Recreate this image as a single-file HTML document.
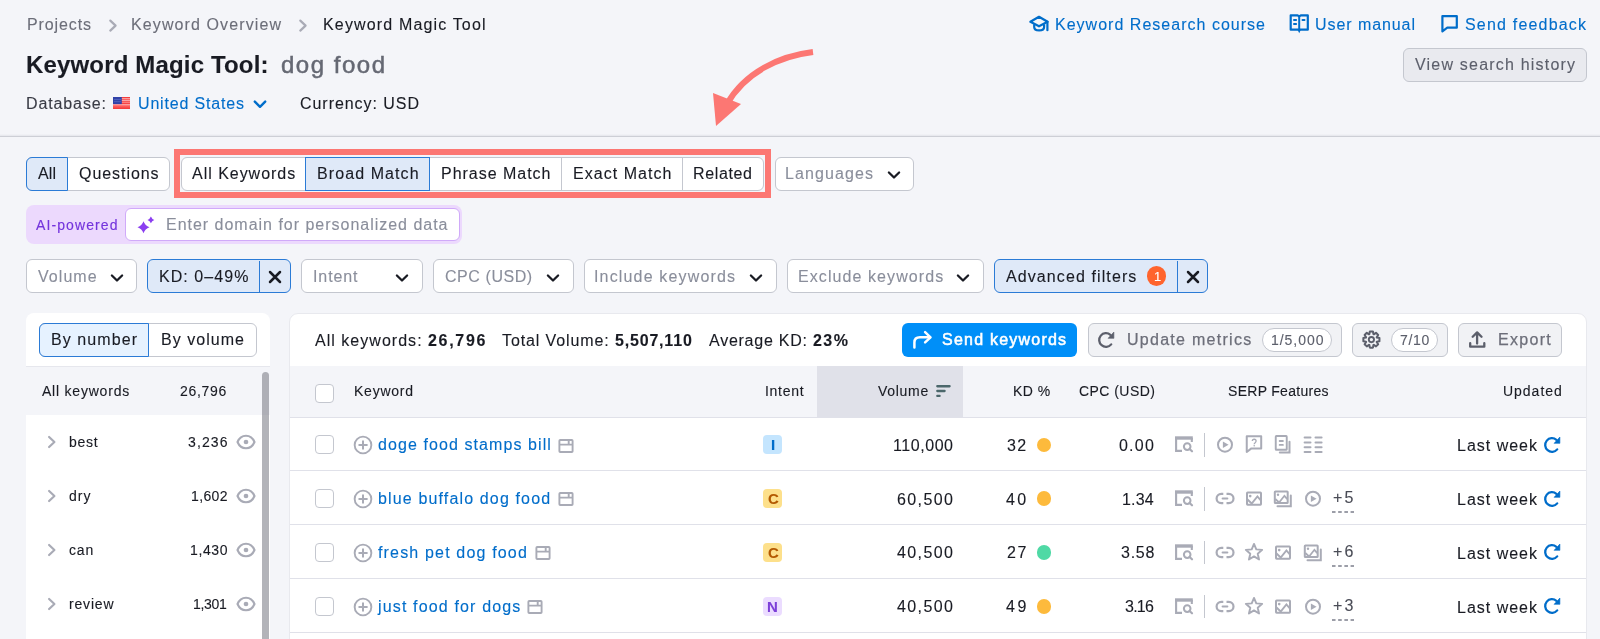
<!DOCTYPE html><html><head><meta charset="utf-8"><style>
*{margin:0;padding:0;box-sizing:border-box}
html,body{width:1600px;height:639px;overflow:hidden;background:#f4f5f9;font-family:"Liberation Sans",sans-serif}
.t{position:absolute;white-space:nowrap;line-height:1;will-change:transform;-webkit-text-stroke:0.12px currentColor}
.b{position:absolute;display:block}
</style></head><body>
<span class="t" style="left:26.50px;top:16.71px;font-size:16px;color:#6c6e79;letter-spacing:0.886px;">Projects</span>
<svg class="b" style="left:107.5px;top:18.5px;" width="10" height="14" viewBox="0 0 10 14"><path d="M2.3 1.6 L7.6 6.6 L2.3 11.6" fill="none" stroke="#a9abb6" stroke-width="2.2" stroke-linecap="round" stroke-linejoin="round"/></svg>
<span class="t" style="left:131.00px;top:16.71px;font-size:16px;color:#6c6e79;letter-spacing:1.109px;">Keyword Overview</span>
<svg class="b" style="left:298px;top:18.5px;" width="10" height="14" viewBox="0 0 10 14"><path d="M2.3 1.6 L7.6 6.6 L2.3 11.6" fill="none" stroke="#a9abb6" stroke-width="2.2" stroke-linecap="round" stroke-linejoin="round"/></svg>
<span class="t" style="left:322.50px;top:16.71px;font-size:16px;color:#191b23;letter-spacing:1.154px;">Keyword Magic Tool</span>
<span class="t" style="left:26.00px;top:53.28px;font-size:24px;color:#191b23;font-weight:700;letter-spacing:0.164px;">Keyword Magic Tool:</span>
<span class="t" style="left:281.00px;top:53.28px;font-size:24px;color:#656873;letter-spacing:1.513px;-webkit-text-stroke:0.5px #656873;">dog food</span>
<span class="t" style="left:26.00px;top:95.96px;font-size:16px;color:#393b45;letter-spacing:0.883px;">Database:</span>
<svg class="b" style="left:113px;top:96.8px;" width="17" height="12.3" viewBox="0 0 17 12.3"><defs><linearGradient id="fg" x1="0" y1="0" x2="0" y2="1"><stop offset="0.57" stop-color="#ffc2c2"/><stop offset="0.72" stop-color="#ff6262"/><stop offset="1" stop-color="#f03434"/></linearGradient></defs><rect width="17" height="12.3" fill="url(#fg)"/><rect width="17" height="7.1" fill="#f53c3c"/><rect y="1.3" width="17" height="1" fill="#ffc4c4"/><rect y="3.3" width="17" height="0.9" fill="#ffd0d0"/><rect y="5.3" width="17" height="0.8" fill="#ff9a9a"/><rect width="8.8" height="7.1" fill="#3142a8"/><rect x="1" y="2" width="7" height="0.8" fill="#5566c0"/><rect x="1" y="4.3" width="7" height="0.8" fill="#5566c0"/></svg>
<span class="t" style="left:137.50px;top:95.96px;font-size:16px;color:#006dca;letter-spacing:0.829px;">United States</span>
<svg class="b" style="left:253px;top:99.5px;" width="14" height="9" viewBox="0 0 14 9"><path d="M1.8 1.6 L7 6.8 L12.2 1.6" fill="none" stroke="#006dca" stroke-width="2.4" stroke-linecap="round" stroke-linejoin="round"/></svg>
<span class="t" style="left:299.50px;top:95.96px;font-size:16px;color:#191b23;letter-spacing:0.952px;">Currency: USD</span>
<svg class="b" style="left:1029px;top:15px;" width="21" height="18" viewBox="0 0 21 18"><path d="M10 1.8 L18.6 6.8 L10 11.3 L1.4 6.8 Z" fill="none" stroke="#006dca" stroke-width="2.2" stroke-linejoin="round"/><path d="M5.2 9.2 V12 C5.2 16.6 15.1 16.6 15.1 12 V9.2" fill="none" stroke="#006dca" stroke-width="2.2"/><path d="M18.4 6.8 V15.2" stroke="#006dca" stroke-width="2.2" stroke-linecap="round"/></svg>
<span class="t" style="left:1054.70px;top:16.86px;font-size:16px;color:#006dca;letter-spacing:1.017px;">Keyword Research course</span>
<svg class="b" style="left:1289px;top:14px;" width="21" height="21" viewBox="0 0 21 21"><path d="M1.7 1.3 H8.6 L10.2 2.4 L11.8 1.3 H18.8 V15.7 H1.7 Z" fill="none" stroke="#006dca" stroke-width="2.2" stroke-linejoin="round"/><path d="M10.2 2.4 V15.7" stroke="#006dca" stroke-width="2"/><path d="M8.4 15.5 L10.2 19.2 L12 15.5 Z" fill="#006dca"/><path d="M5 6.1 H7.1 M5 9.9 H7.1 M13.5 6.1 H15.5" stroke="#006dca" stroke-width="2" stroke-linecap="round"/></svg>
<span class="t" style="left:1315.00px;top:16.86px;font-size:16px;color:#006dca;letter-spacing:0.930px;">User manual</span>
<svg class="b" style="left:1440px;top:15px;" width="19" height="19" viewBox="0 0 19 19"><path d="M2.4 16.4 V1.1 H16.8 V12.7 H7.3 Z" fill="none" stroke="#006dca" stroke-width="2.2" stroke-linejoin="round"/></svg>
<span class="t" style="left:1465.00px;top:16.86px;font-size:16px;color:#006dca;letter-spacing:1.188px;">Send feedback</span>
<div class="b" style="left:1403px;top:48px;width:184px;height:34px;background:#e9eaef;border:1px solid #c4c7cf;border-radius:6px;"></div>
<span class="t" style="left:1415.00px;top:57.06px;font-size:16px;color:#5c5f6b;letter-spacing:1.199px;">View search history</span>
<div class="b" style="left:0px;top:133.6px;width:1600px;height:2.0px;background:linear-gradient(rgba(228,229,235,0),#e4e5eb);"></div>
<div class="b" style="left:0px;top:135.5px;width:1600px;height:1.0999999999999943px;background:#cdcfd6;"></div>
<svg class="b" style="left:700px;top:40px;" width="130" height="100" viewBox="0 0 130 100"><path d="M113 12 C80 16 45 32 27 64" fill="none" stroke="#fc7773" stroke-width="6"/><path d="M13 53 L41 64 L16 86 Z" fill="#fc7773"/></svg>
<div class="b" style="left:26px;top:156.5px;width:143.5px;height:34.0px;background:#fff;border:1px solid #c4c7cf;border-radius:6px;"></div>
<div class="b" style="left:26px;top:156.5px;width:42px;height:34.0px;background:#dfe9f8;border:1px solid #2b7bd6;border-radius:6px 0 0 6px;"></div>
<span class="t" style="left:37.50px;top:165.86px;font-size:16px;color:#191b23;letter-spacing:0.109px;">All</span>
<span class="t" style="left:78.70px;top:165.86px;font-size:16px;color:#191b23;letter-spacing:0.946px;">Questions</span>
<div class="b" style="left:173.5px;top:148.5px;width:597.0px;height:49.69999999999999px;border:6px solid #fc7773;"></div>
<div class="b" style="left:180.5px;top:156.5px;width:583.0px;height:34.0px;background:#fff;border:1px solid #c4c7cf;border-radius:6px;"></div>
<div class="b" style="left:304.5px;top:156.5px;width:125.5px;height:34.0px;background:#dfe9f8;border:1px solid #2b7bd6;"></div>
<div class="b" style="left:561px;top:157.5px;width:1px;height:32.0px;background:#c4c7cf;"></div>
<div class="b" style="left:681.5px;top:157.5px;width:1.0px;height:32.0px;background:#c4c7cf;"></div>
<span class="t" style="left:191.60px;top:165.86px;font-size:16px;color:#191b23;letter-spacing:0.975px;">All Keywords</span>
<span class="t" style="left:317.00px;top:165.86px;font-size:16px;color:#191b23;letter-spacing:1.089px;">Broad Match</span>
<span class="t" style="left:440.90px;top:165.86px;font-size:16px;color:#191b23;letter-spacing:0.981px;">Phrase Match</span>
<span class="t" style="left:572.60px;top:165.86px;font-size:16px;color:#191b23;letter-spacing:1.037px;">Exact Match</span>
<span class="t" style="left:693.00px;top:165.86px;font-size:16px;color:#191b23;letter-spacing:0.642px;">Related</span>
<div class="b" style="left:774.5px;top:156.5px;width:139.0px;height:34.0px;background:#fff;border:1px solid #c4c7cf;border-radius:6px;"></div>
<span class="t" style="left:785.00px;top:165.86px;font-size:16px;color:#8a8e9b;letter-spacing:1.102px;">Languages</span>
<svg class="b" style="left:885.5px;top:168.6px;" width="16" height="12" viewBox="0 0 16 12"><path d="M2.9 3.5 L8 8.55 L13.1 3.5" fill="none" stroke="#191b23" stroke-width="2.3" stroke-linecap="round" stroke-linejoin="round"/></svg>
<div class="b" style="left:26px;top:205px;width:436px;height:39.30000000000001px;background:#ecd9fd;border-radius:8px;"></div>
<span class="t" style="left:35.75px;top:217.65px;font-size:14px;color:#7434dc;letter-spacing:1.101px;-webkit-text-stroke:0.15px #7434dc;">AI-powered</span>
<div class="b" style="left:125px;top:208.3px;width:334.8px;height:33.0px;background:#fff;border:1.5px solid #d0aaf9;border-radius:6px;"></div>
<svg class="b" style="left:130px;top:210px;" width="30" height="30" viewBox="0 0 30 30"><path d="M13.5 11.2 Q15.05 15.649999999999999 19.5 17.2 Q15.05 18.75 13.5 23.2 Q11.95 18.75 7.5 17.2 Q11.95 15.649999999999999 13.5 11.2 Z" fill="#8b3ff0"/><path d="M20.9 6.5 Q21.849999999999998 8.950000000000001 24.299999999999997 9.9 Q21.849999999999998 10.85 20.9 13.3 Q19.95 10.85 17.5 9.9 Q19.95 8.950000000000001 20.9 6.5 Z" fill="#8b3ff0"/></svg>
<span class="t" style="left:166.25px;top:217.21px;font-size:16px;color:#8a8e9b;letter-spacing:0.984px;">Enter domain for personalized data</span>
<div class="b" style="left:26px;top:259px;width:111px;height:34px;background:#fff;border:1px solid #c4c7cf;border-radius:6px;"></div>
<span class="t" style="left:37.50px;top:268.76px;font-size:16px;color:#8a8e9b;letter-spacing:1.047px;">Volume</span>
<svg class="b" style="left:108.60000000000001px;top:271.7px;" width="16" height="12" viewBox="0 0 16 12"><path d="M2.9 3.5 L8 8.55 L13.1 3.5" fill="none" stroke="#191b23" stroke-width="2.3" stroke-linecap="round" stroke-linejoin="round"/></svg>
<div class="b" style="left:147px;top:259px;width:144px;height:34px;background:#dfe9f8;border:1px solid #2b7bd6;border-radius:6px;"></div>
<div class="b" style="left:259px;top:260.5px;width:1px;height:31.5px;background:#2b7bd6;"></div>
<span class="t" style="left:159.00px;top:268.76px;font-size:16px;color:#191b23;letter-spacing:1.058px;">KD: 0–49%</span>
<svg class="b" style="left:268px;top:269.5px;" width="14" height="14" viewBox="0 0 14 14"><path d="M2 2 L12 12 M12 2 L2 12" stroke="#191b23" stroke-width="2.5" stroke-linecap="round"/></svg>
<div class="b" style="left:301px;top:259px;width:122px;height:34px;background:#fff;border:1px solid #c4c7cf;border-radius:6px;"></div>
<span class="t" style="left:312.50px;top:268.76px;font-size:16px;color:#8a8e9b;letter-spacing:0.894px;">Intent</span>
<svg class="b" style="left:394.4px;top:271.7px;" width="16" height="12" viewBox="0 0 16 12"><path d="M2.9 3.5 L8 8.55 L13.1 3.5" fill="none" stroke="#191b23" stroke-width="2.3" stroke-linecap="round" stroke-linejoin="round"/></svg>
<div class="b" style="left:433px;top:259px;width:140.5px;height:34px;background:#fff;border:1px solid #c4c7cf;border-radius:6px;"></div>
<span class="t" style="left:444.70px;top:268.76px;font-size:16px;color:#8a8e9b;letter-spacing:0.567px;">CPC (USD)</span>
<svg class="b" style="left:544.8px;top:271.7px;" width="16" height="12" viewBox="0 0 16 12"><path d="M2.9 3.5 L8 8.55 L13.1 3.5" fill="none" stroke="#191b23" stroke-width="2.3" stroke-linecap="round" stroke-linejoin="round"/></svg>
<div class="b" style="left:584px;top:259px;width:192.5px;height:34px;background:#fff;border:1px solid #c4c7cf;border-radius:6px;"></div>
<span class="t" style="left:594.40px;top:268.76px;font-size:16px;color:#8a8e9b;letter-spacing:1.159px;">Include keywords</span>
<svg class="b" style="left:747.9px;top:271.7px;" width="16" height="12" viewBox="0 0 16 12"><path d="M2.9 3.5 L8 8.55 L13.1 3.5" fill="none" stroke="#191b23" stroke-width="2.3" stroke-linecap="round" stroke-linejoin="round"/></svg>
<div class="b" style="left:787px;top:259px;width:196.5px;height:34px;background:#fff;border:1px solid #c4c7cf;border-radius:6px;"></div>
<span class="t" style="left:797.80px;top:268.76px;font-size:16px;color:#8a8e9b;letter-spacing:1.084px;">Exclude keywords</span>
<svg class="b" style="left:954.9px;top:271.7px;" width="16" height="12" viewBox="0 0 16 12"><path d="M2.9 3.5 L8 8.55 L13.1 3.5" fill="none" stroke="#191b23" stroke-width="2.3" stroke-linecap="round" stroke-linejoin="round"/></svg>
<div class="b" style="left:994px;top:259px;width:214px;height:34px;background:#dfe9f8;border:1px solid #2b7bd6;border-radius:6px;"></div>
<div class="b" style="left:1177px;top:260.5px;width:1px;height:31.5px;background:#2b7bd6;"></div>
<span class="t" style="left:1006.00px;top:268.76px;font-size:16px;color:#191b23;letter-spacing:1.098px;">Advanced filters</span>
<div class="b" style="left:1146.9px;top:266.3px;width:19.59999999999991px;height:19.599999999999966px;background:#ff642d;border-radius:50%;"></div>
<span class="t" style="left:1153.50px;top:270.00px;font-size:13px;color:#fff;">1</span>
<svg class="b" style="left:1185.5px;top:269.5px;" width="14" height="14" viewBox="0 0 14 14"><path d="M2 2 L12 12 M12 2 L2 12" stroke="#191b23" stroke-width="2.5" stroke-linecap="round"/></svg>
<div class="b" style="left:26px;top:313px;width:244px;height:387px;background:#fff;border-radius:8px;"></div>
<div class="b" style="left:39px;top:323px;width:218px;height:34px;background:#fff;border:1px solid #c4c7cf;border-radius:6px;"></div>
<div class="b" style="left:39px;top:323px;width:109.5px;height:34px;background:#e6f2ff;border:1px solid #2b7bd6;border-radius:6px 0 0 6px;"></div>
<span class="t" style="left:50.60px;top:331.96px;font-size:16px;color:#191b23;letter-spacing:1.080px;">By number</span>
<span class="t" style="left:161.00px;top:331.96px;font-size:16px;color:#191b23;letter-spacing:1.038px;">By volume</span>
<div class="b" style="left:26px;top:366px;width:244px;height:1px;background:#e6e7ed;"></div>
<div class="b" style="left:26px;top:367px;width:244px;height:48px;background:#f4f5f9;"></div>
<span class="t" style="left:42.00px;top:384.05px;font-size:14px;color:#191b23;letter-spacing:0.784px;">All keywords</span>
<span class="t" style="left:180.20px;top:384.05px;font-size:14px;color:#191b23;letter-spacing:0.697px;">26,796</span>
<div class="b" style="left:262px;top:372px;width:7px;height:328px;background:rgba(110,112,120,0.52);border-radius:3.5px;"></div>
<svg class="b" style="left:44px;top:433.3px;" width="14" height="18" viewBox="0 0 14 18"><path d="M5.1 4 L10.4 9 L5.1 14" fill="none" stroke="#a9abb6" stroke-width="2.2" stroke-linecap="round" stroke-linejoin="round"/></svg>
<span class="t" style="left:69.30px;top:435.45px;font-size:14px;color:#191b23;letter-spacing:0.713px;">best</span>
<span class="t" style="left:187.50px;top:435.45px;font-size:14px;color:#191b23;letter-spacing:1.117px;">3,236</span>
<svg class="b" style="left:234.6px;top:433.40000000000003px;" width="22" height="18" viewBox="0 0 22 18"><path d="M2.5 9 C6 0.7 16 0.7 19.5 9 C16 17.3 6 17.3 2.5 9 Z" fill="none" stroke="#a9abb6" stroke-width="2.1" stroke-linejoin="round"/><circle cx="11" cy="9" r="2.35" fill="#a9abb6"/></svg>
<svg class="b" style="left:44px;top:487.05px;" width="14" height="18" viewBox="0 0 14 18"><path d="M5.1 4 L10.4 9 L5.1 14" fill="none" stroke="#a9abb6" stroke-width="2.2" stroke-linecap="round" stroke-linejoin="round"/></svg>
<span class="t" style="left:69.30px;top:489.20px;font-size:14px;color:#191b23;letter-spacing:1.077px;">dry</span>
<span class="t" style="left:190.50px;top:489.20px;font-size:14px;color:#191b23;letter-spacing:0.367px;">1,602</span>
<svg class="b" style="left:234.6px;top:487.15000000000003px;" width="22" height="18" viewBox="0 0 22 18"><path d="M2.5 9 C6 0.7 16 0.7 19.5 9 C16 17.3 6 17.3 2.5 9 Z" fill="none" stroke="#a9abb6" stroke-width="2.1" stroke-linejoin="round"/><circle cx="11" cy="9" r="2.35" fill="#a9abb6"/></svg>
<svg class="b" style="left:44px;top:540.8px;" width="14" height="18" viewBox="0 0 14 18"><path d="M5.1 4 L10.4 9 L5.1 14" fill="none" stroke="#a9abb6" stroke-width="2.2" stroke-linecap="round" stroke-linejoin="round"/></svg>
<span class="t" style="left:69.30px;top:542.95px;font-size:14px;color:#191b23;letter-spacing:0.815px;">can</span>
<span class="t" style="left:189.50px;top:542.95px;font-size:14px;color:#191b23;letter-spacing:0.617px;">1,430</span>
<svg class="b" style="left:234.6px;top:540.9px;" width="22" height="18" viewBox="0 0 22 18"><path d="M2.5 9 C6 0.7 16 0.7 19.5 9 C16 17.3 6 17.3 2.5 9 Z" fill="none" stroke="#a9abb6" stroke-width="2.1" stroke-linejoin="round"/><circle cx="11" cy="9" r="2.35" fill="#a9abb6"/></svg>
<svg class="b" style="left:44px;top:594.55px;" width="14" height="18" viewBox="0 0 14 18"><path d="M5.1 4 L10.4 9 L5.1 14" fill="none" stroke="#a9abb6" stroke-width="2.2" stroke-linecap="round" stroke-linejoin="round"/></svg>
<span class="t" style="left:69.30px;top:596.70px;font-size:14px;color:#191b23;letter-spacing:0.829px;">review</span>
<span class="t" style="left:193.20px;top:596.70px;font-size:14px;color:#191b23;letter-spacing:-0.308px;">1,301</span>
<svg class="b" style="left:234.6px;top:594.65px;" width="22" height="18" viewBox="0 0 22 18"><path d="M2.5 9 C6 0.7 16 0.7 19.5 9 C16 17.3 6 17.3 2.5 9 Z" fill="none" stroke="#a9abb6" stroke-width="2.1" stroke-linejoin="round"/><circle cx="11" cy="9" r="2.35" fill="#a9abb6"/></svg>
<div class="b" style="left:289px;top:312.5px;width:1298.3px;height:387.5px;background:#fff;border-radius:9px;border:1px solid #e8e9ee;"></div>
<span class="t" style="left:315.00px;top:333.06px;font-size:16px;color:#191b23;letter-spacing:1.029px;">All keywords:</span>
<span class="t" style="left:427.60px;top:333.06px;font-size:16px;color:#191b23;font-weight:700;letter-spacing:1.694px;">26,796</span>
<span class="t" style="left:502.30px;top:333.06px;font-size:16px;color:#191b23;letter-spacing:0.888px;">Total Volume:</span>
<span class="t" style="left:615.20px;top:333.06px;font-size:16px;color:#191b23;font-weight:700;letter-spacing:0.814px;">5,507,110</span>
<span class="t" style="left:708.90px;top:333.06px;font-size:16px;color:#191b23;letter-spacing:0.748px;">Average KD:</span>
<span class="t" style="left:813.30px;top:333.06px;font-size:16px;color:#191b23;font-weight:700;letter-spacing:1.439px;">23%</span>
<div class="b" style="left:902px;top:323px;width:175px;height:34px;background:#008ff8;border-radius:6px;"></div>
<svg class="b" style="left:911px;top:330px;" width="22" height="20" viewBox="0 0 22 20"><path d="M3.4 17.6 V12.5 C3.4 9.3 5.2 7.3 9 7.3 H19" fill="none" stroke="#fff" stroke-width="2.5" stroke-linecap="round"/><path d="M14.1 2.2 L19.5 7.3 L14.1 12.4" fill="none" stroke="#fff" stroke-width="2.5" stroke-linecap="round" stroke-linejoin="round"/></svg>
<span class="t" style="left:941.50px;top:332.36px;font-size:16px;color:#fff;letter-spacing:1.226px;-webkit-text-stroke:0.55px #fff;">Send keywords</span>
<div class="b" style="left:1087.5px;top:323px;width:254.5px;height:33.5px;background:#f1f2f5;border:1px solid #c4c7cf;border-radius:6px;"></div>
<span class="t" style="left:1127.20px;top:332.36px;font-size:16px;color:#6c6e79;letter-spacing:1.278px;-webkit-text-stroke:0.25px #6c6e79;">Update metrics</span>
<div class="b" style="left:1262px;top:328px;width:70px;height:23.5px;background:#fff;border:1px solid #c4c7cf;border-radius:12px;"></div>
<span class="t" style="left:1270.50px;top:332.65px;font-size:14px;color:#5c5f6b;letter-spacing:0.966px;">1/5,000</span>
<div class="b" style="left:1352px;top:323px;width:95.5px;height:33.5px;background:#f1f2f5;border:1px solid #c4c7cf;border-radius:6px;"></div>
<svg class="b" style="left:1362px;top:330px;" width="20" height="20" viewBox="0 0 20 20"><path d="M7.36 4.17 L7.85 1.55 L10.95 1.55 L11.44 4.17 L11.79 4.32 L14.00 2.81 L16.19 5.00 L14.68 7.21 L14.83 7.56 L17.45 8.05 L17.45 11.15 L14.83 11.64 L14.68 11.99 L16.19 14.20 L14.00 16.39 L11.79 14.88 L11.44 15.03 L10.95 17.65 L7.85 17.65 L7.36 15.03 L7.01 14.88 L4.80 16.39 L2.61 14.20 L4.12 11.99 L3.97 11.64 L1.35 11.15 L1.35 8.05 L3.97 7.56 L4.12 7.21 L2.61 5.00 L4.80 2.81 L7.01 4.32 Z" fill="none" stroke="#5c5f6b" stroke-width="2" stroke-linejoin="round"/><circle cx="9.4" cy="9.6" r="2.6" fill="none" stroke="#5c5f6b" stroke-width="1.9"/></svg>
<div class="b" style="left:1391px;top:328px;width:47px;height:23.5px;background:#fff;border:1px solid #c4c7cf;border-radius:12px;"></div>
<span class="t" style="left:1399.80px;top:332.65px;font-size:14px;color:#5c5f6b;letter-spacing:0.652px;">7/10</span>
<div class="b" style="left:1458px;top:323px;width:104px;height:33.5px;background:#f1f2f5;border:1px solid #c4c7cf;border-radius:6px;"></div>
<svg class="b" style="left:1468px;top:331px;" width="19" height="19" viewBox="0 0 19 19"><path d="M9.1 12.6 V1.8 M4.7 5.8 L9.1 1.4 L13.5 5.8" fill="none" stroke="#5c5f6b" stroke-width="2.3" stroke-linecap="round" stroke-linejoin="round"/><path d="M2.2 12.2 V15.7 H16.3 V12.2" fill="none" stroke="#5c5f6b" stroke-width="2.3" stroke-linecap="round" stroke-linejoin="round"/></svg>
<span class="t" style="left:1497.60px;top:332.36px;font-size:16px;color:#6c6e79;letter-spacing:1.312px;-webkit-text-stroke:0.25px #6c6e79;">Export</span>
<div class="b" style="left:290px;top:366px;width:1296.3px;height:51px;background:#f4f5f9;"></div>
<div class="b" style="left:816.5px;top:366px;width:146.5px;height:51px;background:#e0e1e9;"></div>
<div class="b" style="left:290px;top:416.5px;width:1296.3px;height:1.0px;background:#e0e1e9;"></div>
<div class="b" style="left:314.5px;top:384px;width:19.0px;height:19px;background:#fff;border:1px solid #c4c7cf;border-radius:4px;"></div>
<span class="t" style="left:354.00px;top:384.15px;font-size:14px;color:#191b23;letter-spacing:0.756px;">Keyword</span>
<span class="t" style="left:765.40px;top:384.15px;font-size:14px;color:#191b23;letter-spacing:0.715px;">Intent</span>
<span class="t" style="left:877.70px;top:384.15px;font-size:14px;color:#191b23;letter-spacing:0.701px;">Volume</span>
<svg class="b" style="left:930px;top:380px;" width="24" height="20" viewBox="0 0 24 20"><path d="M7.3 6.25 H19.6 M7.3 11 H14.6 M7.3 15.9 H9.6" stroke="#4b676b" stroke-width="2.3" stroke-linecap="round"/></svg>
<span class="t" style="left:1012.70px;top:384.15px;font-size:14px;color:#191b23;letter-spacing:0.504px;">KD %</span>
<span class="t" style="left:1078.60px;top:384.15px;font-size:14px;color:#191b23;letter-spacing:0.446px;">CPC (USD)</span>
<span class="t" style="left:1227.70px;top:384.15px;font-size:14px;color:#191b23;letter-spacing:0.300px;">SERP Features</span>
<span class="t" style="left:1503.00px;top:384.15px;font-size:14px;color:#191b23;letter-spacing:0.979px;">Updated</span>
<div class="b" style="left:290px;top:470.2px;width:1296.3px;height:1.0px;background:#e0e1e9;"></div>
<div class="b" style="left:314.5px;top:435.4px;width:19.0px;height:19.0px;background:#fff;border:1px solid #c4c7cf;border-radius:4px;"></div>
<svg class="b" style="left:350.8px;top:432.8px" width="24" height="24" viewBox="-12 -12 24 24"><circle cx="0" cy="0" r="8.35" fill="none" stroke="#a9abb6" stroke-width="1.9"/><path d="M0 -4.5 V4.4 M-4.5 0 H4.6" fill="none" stroke="#a9abb6" stroke-width="2"/></svg>
<span class="t" style="left:378.40px;top:436.86px;font-size:16px;color:#006dca;letter-spacing:1.085px;">doge food stamps bill</span>
<svg class="b" style="left:554.4499999999999px;top:433.5px" width="24" height="24" viewBox="-12 -12 24 24"><rect x="-6.6" y="-6" width="13.2" height="12" rx="0.8" fill="none" stroke="#a9abb6" stroke-width="1.9"/><path d="M-6.6 -1.4 H6.6 M2.7 -6 V-1.4" fill="none" stroke="#a9abb6" stroke-width="1.9"/></svg>
<div class="b" style="left:762.6px;top:434.8px;width:19.5px;height:19.5px;background:#c4e5fe;border-radius:4px;"></div>
<span class="t" style="left:770.60px;top:437.20px;font-size:15px;color:#006dca;font-weight:700;">I</span>
<span class="t" style="left:892.50px;top:437.56px;font-size:16px;color:#191b23;letter-spacing:0.560px;">110,000</span>
<span class="t" style="left:1006.80px;top:437.56px;font-size:16px;color:#191b23;letter-spacing:1.405px;">32</span>
<div class="b" style="left:1036.8px;top:437.5px;width:14.400000000000091px;height:14.399999999999977px;background:#fdba3c;border-radius:50%;"></div>
<span class="t" style="left:1119.20px;top:437.56px;font-size:16px;color:#191b23;letter-spacing:1.221px;">0.00</span>
<svg class="b" style="left:1172px;top:432.0px" width="24" height="24" viewBox="-12 -12 24 24"><path d="M-2 6.9 H-7.9 V-6 M7.8 -6 V-2.1" fill="none" stroke="#a9abb6" stroke-width="2.1"/><path d="M-9 -6 H8.8" fill="none" stroke="#a9abb6" stroke-width="3.4"/><circle cx="3.2" cy="2.6" r="3.3" fill="none" stroke="#a9abb6" stroke-width="2"/><path d="M5.6 5 L8 7.3" fill="none" stroke="#a9abb6" stroke-width="2.2" stroke-linecap="round"/></svg>
<div class="b" style="left:1203.9px;top:432.8px;width:1.199999999999818px;height:23.80000000000001px;background:#c4c7cf;"></div>
<svg class="b" style="left:1212.6px;top:432.0px" width="24" height="24" viewBox="-12 -12 24 24"><circle cx="0" cy="0.7" r="7" fill="none" stroke="#a9abb6" stroke-width="2"/><path d="M-2.1 -2.4 L3.6 0.85 L-2.1 4.1 Z" fill="#a9abb6"/></svg>
<svg class="b" style="left:1242.0px;top:432.0px" width="24" height="24" viewBox="-12 -12 24 24"><path d="M-7.25 8 V-7.7 H7.2 V4.4 H-2.6 Z" fill="none" stroke="#a9abb6" stroke-width="2" stroke-linejoin="round"/><path d="M-1.7 -2.9 C-1.7 -5.4 2.1 -5.4 2.1 -2.9 C2.1 -1.3 0.2 -1.4 0.2 0.3" fill="none" stroke="#a9abb6" stroke-width="1.3"/><circle cx="0.2" cy="1.8" r="0.8" fill="#a9abb6"/></svg>
<svg class="b" style="left:1271.3999999999999px;top:432.0px" width="24" height="24" viewBox="-12 -12 24 24"><rect x="-7.25" y="-7.95" width="11" height="13.7" rx="0.6" fill="none" stroke="#a9abb6" stroke-width="1.9"/><path d="M-3.3 -3 H-0.1 M-3.3 0.9 H-0.1" fill="none" stroke="#a9abb6" stroke-width="1.9" stroke-linecap="round"/><path d="M6.5 -2.2 V8.5 H-3.2" fill="none" stroke="#a9abb6" stroke-width="2" stroke-linecap="round"/></svg>
<svg class="b" style="left:1300.8px;top:432.0px" width="24" height="24" viewBox="-12 -12 24 24"><path d="M-8.4 -6.6 H-2.5 M2.5 -6.6 H8.6" fill="none" stroke="#a9abb6" stroke-width="2" stroke-linecap="round"/><path d="M-8.4 -1.6 H-2.5 M2.5 -1.6 H8.6" fill="none" stroke="#a9abb6" stroke-width="2" stroke-linecap="round"/><path d="M-8.4 3.3 H-2.5 M2.5 3.3 H8.6" fill="none" stroke="#a9abb6" stroke-width="2" stroke-linecap="round"/><path d="M-8.4 8.1 H-2.5 M2.5 8.1 H8.6" fill="none" stroke="#a9abb6" stroke-width="2" stroke-linecap="round"/></svg>
<span class="t" style="left:1456.80px;top:437.66px;font-size:16px;color:#191b23;letter-spacing:0.996px;">Last week</span>
<svg class="b" style="left:1540.1px;top:432.55px" width="24" height="24" viewBox="-12 -12 24 24"><path d="M5.21 4.37 A6.8 6.8 0 1 1 4.37 -5.21" fill="none" stroke="#006dca" stroke-width="2.3" stroke-linecap="round"/><path d="M7.9 -8 V-1.65 H2.1 Z" fill="#006dca" stroke="#006dca" stroke-width="0.6" stroke-linejoin="round"/></svg>
<div class="b" style="left:290px;top:524.15px;width:1296.3px;height:1.0px;background:#e0e1e9;"></div>
<div class="b" style="left:314.5px;top:489.34999999999997px;width:19.0px;height:19.0px;background:#fff;border:1px solid #c4c7cf;border-radius:4px;"></div>
<svg class="b" style="left:350.8px;top:486.75px" width="24" height="24" viewBox="-12 -12 24 24"><circle cx="0" cy="0" r="8.35" fill="none" stroke="#a9abb6" stroke-width="1.9"/><path d="M0 -4.5 V4.4 M-4.5 0 H4.6" fill="none" stroke="#a9abb6" stroke-width="2"/></svg>
<span class="t" style="left:378.40px;top:490.81px;font-size:16px;color:#006dca;letter-spacing:1.147px;">blue buffalo dog food</span>
<svg class="b" style="left:553.8499999999999px;top:487.45px" width="24" height="24" viewBox="-12 -12 24 24"><rect x="-6.6" y="-6" width="13.2" height="12" rx="0.8" fill="none" stroke="#a9abb6" stroke-width="1.9"/><path d="M-6.6 -1.4 H6.6 M2.7 -6 V-1.4" fill="none" stroke="#a9abb6" stroke-width="1.9"/></svg>
<div class="b" style="left:762.6px;top:488.75px;width:19.5px;height:19.5px;background:#fde08b;border-radius:4px;"></div>
<span class="t" style="left:767.60px;top:491.15px;font-size:15px;color:#b35900;font-weight:700;">C</span>
<span class="t" style="left:896.50px;top:491.51px;font-size:16px;color:#191b23;letter-spacing:1.414px;">60,500</span>
<span class="t" style="left:1005.80px;top:491.51px;font-size:16px;color:#191b23;letter-spacing:2.405px;">40</span>
<div class="b" style="left:1036.8px;top:491.45px;width:14.400000000000091px;height:14.399999999999977px;background:#fdba3c;border-radius:50%;"></div>
<span class="t" style="left:1122.30px;top:491.51px;font-size:16px;color:#191b23;letter-spacing:0.188px;">1.34</span>
<svg class="b" style="left:1172px;top:485.95px" width="24" height="24" viewBox="-12 -12 24 24"><path d="M-2 6.9 H-7.9 V-6 M7.8 -6 V-2.1" fill="none" stroke="#a9abb6" stroke-width="2.1"/><path d="M-9 -6 H8.8" fill="none" stroke="#a9abb6" stroke-width="3.4"/><circle cx="3.2" cy="2.6" r="3.3" fill="none" stroke="#a9abb6" stroke-width="2"/><path d="M5.6 5 L8 7.3" fill="none" stroke="#a9abb6" stroke-width="2.2" stroke-linecap="round"/></svg>
<div class="b" style="left:1203.9px;top:486.75px;width:1.199999999999818px;height:23.80000000000001px;background:#c4c7cf;"></div>
<svg class="b" style="left:1212.6px;top:485.95px" width="24" height="24" viewBox="-12 -12 24 24"><path d="M-1.7 -4.2 H-3.75 A4.65 4.65 0 0 0 -3.75 5.1 H-1.7 M1.5 -4.2 H3.85 A4.65 4.65 0 0 1 3.85 5.1 H1.5" fill="none" stroke="#a9abb6" stroke-width="2.2"/><path d="M-2.3 0.5 H2.3" fill="none" stroke="#a9abb6" stroke-width="2.2" stroke-linecap="round"/></svg>
<svg class="b" style="left:1242.0px;top:485.95px" width="24" height="24" viewBox="-12 -12 24 24"><rect x="-7" y="-5.4" width="14" height="12.1" rx="0.6" fill="none" stroke="#a9abb6" stroke-width="2"/><path d="M-6.5 1.5 L-2.3 5.5 L3.4 -1.6 L6.8 2.4" fill="none" stroke="#a9abb6" stroke-width="1.9"/><circle cx="-3.8" cy="-1.9" r="1.3" fill="#a9abb6"/></svg>
<svg class="b" style="left:1271.3999999999999px;top:485.95px" width="24" height="24" viewBox="-12 -12 24 24"><rect x="-8.2" y="-6.5" width="12.9" height="11.5" rx="0.6" fill="none" stroke="#a9abb6" stroke-width="2"/><path d="M-7.7 1 L-3.9 4.5 L1.4 -2.2 L4.3 1.2" fill="none" stroke="#a9abb6" stroke-width="1.8"/><circle cx="-5" cy="-3.2" r="1.2" fill="#a9abb6"/><path d="M7.8 -2.6 V8.3 H-5.5" fill="none" stroke="#a9abb6" stroke-width="2" stroke-linecap="round"/></svg>
<svg class="b" style="left:1300.8px;top:485.95px" width="24" height="24" viewBox="-12 -12 24 24"><circle cx="0" cy="0.7" r="7" fill="none" stroke="#a9abb6" stroke-width="2"/><path d="M-2.1 -2.4 L3.6 0.85 L-2.1 4.1 Z" fill="#a9abb6"/></svg>
<span class="t" style="left:1333.20px;top:490.01px;font-size:16px;color:#4a4c56;letter-spacing:2.058px;">+5</span>
<div class="b" style="left:1332.2px;top:511.45px;width:22.299999999999955px;height:1.5000000000000568px;background-image:linear-gradient(90deg,#9c9ea8 3.6px,transparent 3.6px);background-size:6.2px 1.5px;"></div>
<span class="t" style="left:1456.80px;top:491.61px;font-size:16px;color:#191b23;letter-spacing:0.996px;">Last week</span>
<svg class="b" style="left:1540.1px;top:486.5px" width="24" height="24" viewBox="-12 -12 24 24"><path d="M5.21 4.37 A6.8 6.8 0 1 1 4.37 -5.21" fill="none" stroke="#006dca" stroke-width="2.3" stroke-linecap="round"/><path d="M7.9 -8 V-1.65 H2.1 Z" fill="#006dca" stroke="#006dca" stroke-width="0.6" stroke-linejoin="round"/></svg>
<div class="b" style="left:290px;top:578.1px;width:1296.3px;height:1.0px;background:#e0e1e9;"></div>
<div class="b" style="left:314.5px;top:543.3px;width:19.0px;height:19.0px;background:#fff;border:1px solid #c4c7cf;border-radius:4px;"></div>
<svg class="b" style="left:350.8px;top:540.6999999999999px" width="24" height="24" viewBox="-12 -12 24 24"><circle cx="0" cy="0" r="8.35" fill="none" stroke="#a9abb6" stroke-width="1.9"/><path d="M0 -4.5 V4.4 M-4.5 0 H4.6" fill="none" stroke="#a9abb6" stroke-width="2"/></svg>
<span class="t" style="left:378.40px;top:544.76px;font-size:16px;color:#006dca;letter-spacing:1.166px;">fresh pet dog food</span>
<svg class="b" style="left:530.55px;top:541.4px" width="24" height="24" viewBox="-12 -12 24 24"><rect x="-6.6" y="-6" width="13.2" height="12" rx="0.8" fill="none" stroke="#a9abb6" stroke-width="1.9"/><path d="M-6.6 -1.4 H6.6 M2.7 -6 V-1.4" fill="none" stroke="#a9abb6" stroke-width="1.9"/></svg>
<div class="b" style="left:762.6px;top:542.6999999999999px;width:19.5px;height:19.5px;background:#fde08b;border-radius:4px;"></div>
<span class="t" style="left:767.60px;top:545.10px;font-size:15px;color:#b35900;font-weight:700;">C</span>
<span class="t" style="left:896.50px;top:545.46px;font-size:16px;color:#191b23;letter-spacing:1.414px;">40,500</span>
<span class="t" style="left:1006.70px;top:545.46px;font-size:16px;color:#191b23;letter-spacing:1.505px;">27</span>
<div class="b" style="left:1036.8px;top:545.4px;width:14.400000000000091px;height:14.399999999999977px;background:#4fd9a5;border-radius:50%;"></div>
<span class="t" style="left:1120.60px;top:545.46px;font-size:16px;color:#191b23;letter-spacing:0.754px;">3.58</span>
<svg class="b" style="left:1172px;top:539.9px" width="24" height="24" viewBox="-12 -12 24 24"><path d="M-2 6.9 H-7.9 V-6 M7.8 -6 V-2.1" fill="none" stroke="#a9abb6" stroke-width="2.1"/><path d="M-9 -6 H8.8" fill="none" stroke="#a9abb6" stroke-width="3.4"/><circle cx="3.2" cy="2.6" r="3.3" fill="none" stroke="#a9abb6" stroke-width="2"/><path d="M5.6 5 L8 7.3" fill="none" stroke="#a9abb6" stroke-width="2.2" stroke-linecap="round"/></svg>
<div class="b" style="left:1203.9px;top:540.6999999999999px;width:1.199999999999818px;height:23.800000000000068px;background:#c4c7cf;"></div>
<svg class="b" style="left:1212.6px;top:539.9px" width="24" height="24" viewBox="-12 -12 24 24"><path d="M-1.7 -4.2 H-3.75 A4.65 4.65 0 0 0 -3.75 5.1 H-1.7 M1.5 -4.2 H3.85 A4.65 4.65 0 0 1 3.85 5.1 H1.5" fill="none" stroke="#a9abb6" stroke-width="2.2"/><path d="M-2.3 0.5 H2.3" fill="none" stroke="#a9abb6" stroke-width="2.2" stroke-linecap="round"/></svg>
<svg class="b" style="left:1242.0px;top:539.9px" width="24" height="24" viewBox="-12 -12 24 24"><path d="M0.00 -8.10 L2.29 -2.66 L8.18 -2.16 L3.71 1.71 L5.05 7.46 L0.00 4.40 L-5.05 7.46 L-3.71 1.71 L-8.18 -2.16 L-2.29 -2.66 Z" fill="none" stroke="#a9abb6" stroke-width="1.9" stroke-linejoin="round"/></svg>
<svg class="b" style="left:1271.3999999999999px;top:539.9px" width="24" height="24" viewBox="-12 -12 24 24"><rect x="-7" y="-5.4" width="14" height="12.1" rx="0.6" fill="none" stroke="#a9abb6" stroke-width="2"/><path d="M-6.5 1.5 L-2.3 5.5 L3.4 -1.6 L6.8 2.4" fill="none" stroke="#a9abb6" stroke-width="1.9"/><circle cx="-3.8" cy="-1.9" r="1.3" fill="#a9abb6"/></svg>
<svg class="b" style="left:1300.8px;top:539.9px" width="24" height="24" viewBox="-12 -12 24 24"><rect x="-8.2" y="-6.5" width="12.9" height="11.5" rx="0.6" fill="none" stroke="#a9abb6" stroke-width="2"/><path d="M-7.7 1 L-3.9 4.5 L1.4 -2.2 L4.3 1.2" fill="none" stroke="#a9abb6" stroke-width="1.8"/><circle cx="-5" cy="-3.2" r="1.2" fill="#a9abb6"/><path d="M7.8 -2.6 V8.3 H-5.5" fill="none" stroke="#a9abb6" stroke-width="2" stroke-linecap="round"/></svg>
<span class="t" style="left:1333.20px;top:543.96px;font-size:16px;color:#4a4c56;letter-spacing:2.058px;">+6</span>
<div class="b" style="left:1332.2px;top:565.4px;width:22.299999999999955px;height:1.5px;background-image:linear-gradient(90deg,#9c9ea8 3.6px,transparent 3.6px);background-size:6.2px 1.5px;"></div>
<span class="t" style="left:1456.80px;top:545.56px;font-size:16px;color:#191b23;letter-spacing:0.996px;">Last week</span>
<svg class="b" style="left:1540.1px;top:540.4499999999999px" width="24" height="24" viewBox="-12 -12 24 24"><path d="M5.21 4.37 A6.8 6.8 0 1 1 4.37 -5.21" fill="none" stroke="#006dca" stroke-width="2.3" stroke-linecap="round"/><path d="M7.9 -8 V-1.65 H2.1 Z" fill="#006dca" stroke="#006dca" stroke-width="0.6" stroke-linejoin="round"/></svg>
<div class="b" style="left:290px;top:632.0500000000001px;width:1296.3px;height:1.0px;background:#e0e1e9;"></div>
<div class="b" style="left:314.5px;top:597.25px;width:19.0px;height:19.0px;background:#fff;border:1px solid #c4c7cf;border-radius:4px;"></div>
<svg class="b" style="left:350.8px;top:594.65px" width="24" height="24" viewBox="-12 -12 24 24"><circle cx="0" cy="0" r="8.35" fill="none" stroke="#a9abb6" stroke-width="1.9"/><path d="M0 -4.5 V4.4 M-4.5 0 H4.6" fill="none" stroke="#a9abb6" stroke-width="2"/></svg>
<span class="t" style="left:378.40px;top:598.71px;font-size:16px;color:#006dca;letter-spacing:1.151px;">just food for dogs</span>
<svg class="b" style="left:523.05px;top:595.35px" width="24" height="24" viewBox="-12 -12 24 24"><rect x="-6.6" y="-6" width="13.2" height="12" rx="0.8" fill="none" stroke="#a9abb6" stroke-width="1.9"/><path d="M-6.6 -1.4 H6.6 M2.7 -6 V-1.4" fill="none" stroke="#a9abb6" stroke-width="1.9"/></svg>
<div class="b" style="left:762.6px;top:596.65px;width:19.5px;height:19.5px;background:#ebdcff;border-radius:4px;"></div>
<span class="t" style="left:767.40px;top:599.05px;font-size:15px;color:#7c3fd8;font-weight:700;">N</span>
<span class="t" style="left:896.50px;top:599.41px;font-size:16px;color:#191b23;letter-spacing:1.414px;">40,500</span>
<span class="t" style="left:1005.70px;top:599.41px;font-size:16px;color:#191b23;letter-spacing:2.505px;">49</span>
<div class="b" style="left:1036.8px;top:599.35px;width:14.400000000000091px;height:14.399999999999977px;background:#fdba3c;border-radius:50%;"></div>
<span class="t" style="left:1125.10px;top:599.41px;font-size:16px;color:#191b23;letter-spacing:-0.746px;">3.16</span>
<svg class="b" style="left:1172px;top:593.85px" width="24" height="24" viewBox="-12 -12 24 24"><path d="M-2 6.9 H-7.9 V-6 M7.8 -6 V-2.1" fill="none" stroke="#a9abb6" stroke-width="2.1"/><path d="M-9 -6 H8.8" fill="none" stroke="#a9abb6" stroke-width="3.4"/><circle cx="3.2" cy="2.6" r="3.3" fill="none" stroke="#a9abb6" stroke-width="2"/><path d="M5.6 5 L8 7.3" fill="none" stroke="#a9abb6" stroke-width="2.2" stroke-linecap="round"/></svg>
<div class="b" style="left:1203.9px;top:594.65px;width:1.199999999999818px;height:23.800000000000068px;background:#c4c7cf;"></div>
<svg class="b" style="left:1212.6px;top:593.85px" width="24" height="24" viewBox="-12 -12 24 24"><path d="M-1.7 -4.2 H-3.75 A4.65 4.65 0 0 0 -3.75 5.1 H-1.7 M1.5 -4.2 H3.85 A4.65 4.65 0 0 1 3.85 5.1 H1.5" fill="none" stroke="#a9abb6" stroke-width="2.2"/><path d="M-2.3 0.5 H2.3" fill="none" stroke="#a9abb6" stroke-width="2.2" stroke-linecap="round"/></svg>
<svg class="b" style="left:1242.0px;top:593.85px" width="24" height="24" viewBox="-12 -12 24 24"><path d="M0.00 -8.10 L2.29 -2.66 L8.18 -2.16 L3.71 1.71 L5.05 7.46 L0.00 4.40 L-5.05 7.46 L-3.71 1.71 L-8.18 -2.16 L-2.29 -2.66 Z" fill="none" stroke="#a9abb6" stroke-width="1.9" stroke-linejoin="round"/></svg>
<svg class="b" style="left:1271.3999999999999px;top:593.85px" width="24" height="24" viewBox="-12 -12 24 24"><rect x="-7" y="-5.4" width="14" height="12.1" rx="0.6" fill="none" stroke="#a9abb6" stroke-width="2"/><path d="M-6.5 1.5 L-2.3 5.5 L3.4 -1.6 L6.8 2.4" fill="none" stroke="#a9abb6" stroke-width="1.9"/><circle cx="-3.8" cy="-1.9" r="1.3" fill="#a9abb6"/></svg>
<svg class="b" style="left:1300.8px;top:593.85px" width="24" height="24" viewBox="-12 -12 24 24"><circle cx="0" cy="0.7" r="7" fill="none" stroke="#a9abb6" stroke-width="2"/><path d="M-2.1 -2.4 L3.6 0.85 L-2.1 4.1 Z" fill="#a9abb6"/></svg>
<span class="t" style="left:1333.20px;top:597.91px;font-size:16px;color:#4a4c56;letter-spacing:2.058px;">+3</span>
<div class="b" style="left:1332.2px;top:619.35px;width:22.299999999999955px;height:1.5px;background-image:linear-gradient(90deg,#9c9ea8 3.6px,transparent 3.6px);background-size:6.2px 1.5px;"></div>
<span class="t" style="left:1456.80px;top:599.51px;font-size:16px;color:#191b23;letter-spacing:0.996px;">Last week</span>
<svg class="b" style="left:1540.1px;top:594.4px" width="24" height="24" viewBox="-12 -12 24 24"><path d="M5.21 4.37 A6.8 6.8 0 1 1 4.37 -5.21" fill="none" stroke="#006dca" stroke-width="2.3" stroke-linecap="round"/><path d="M7.9 -8 V-1.65 H2.1 Z" fill="#006dca" stroke="#006dca" stroke-width="0.6" stroke-linejoin="round"/></svg>
<div class="b" style="left:290px;top:686.0px;width:1296.3px;height:1.0px;background:#e0e1e9;"></div>
<div class="b" style="left:314.5px;top:651.1999999999999px;width:19.0px;height:19.0px;background:#fff;border:1px solid #c4c7cf;border-radius:4px;"></div>
<svg class="b" style="left:1094.3px;top:327.6px" width="24" height="24" viewBox="-12 -12 24 24"><path d="M5.21 4.37 A6.8 6.8 0 1 1 4.37 -5.21" fill="none" stroke="#5c5f6b" stroke-width="2.3" stroke-linecap="round"/><path d="M7.9 -8 V-1.65 H2.1 Z" fill="#5c5f6b" stroke="#5c5f6b" stroke-width="0.6" stroke-linejoin="round"/></svg>
</body></html>
